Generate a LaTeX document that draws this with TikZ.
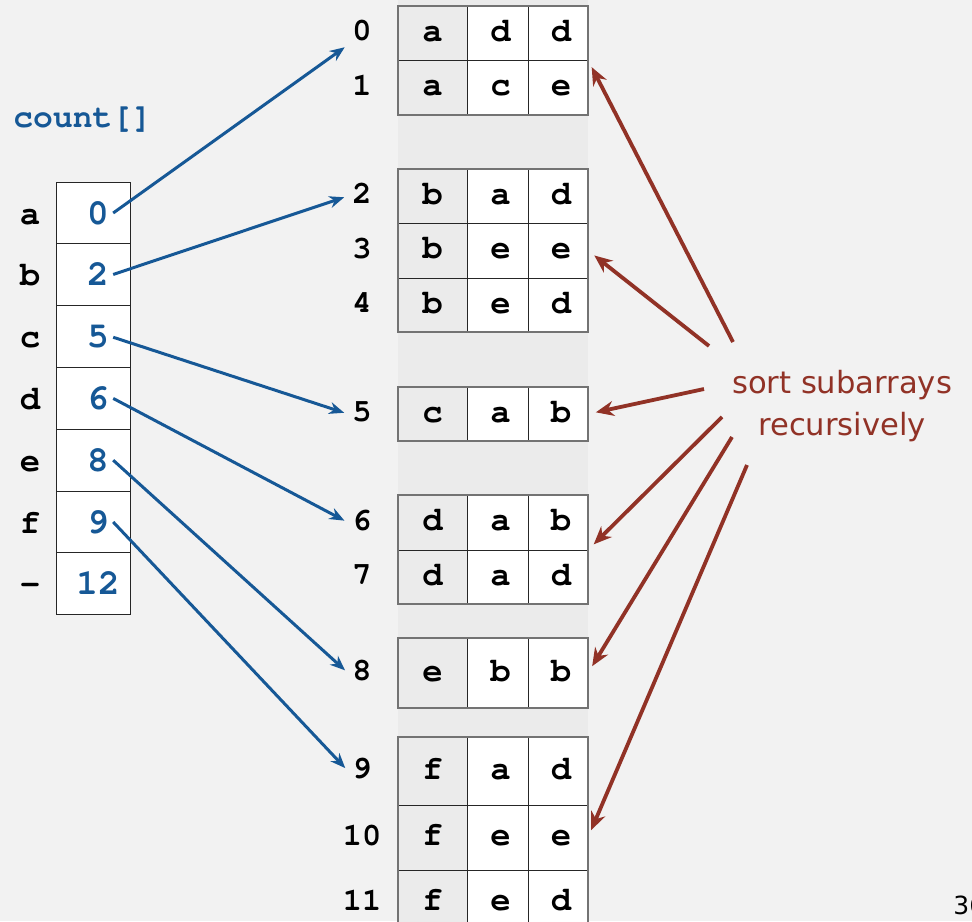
\documentclass[tikz,border=0pt]{standalone}
\usepackage[T1]{fontenc}
\usepackage{fontspec}
\setsansfont{DejaVu Sans}
\usetikzlibrary{arrows.meta,positioning}
\definecolor{bgGray}{RGB}{242,242,242}
\definecolor{bandGray}{RGB}{235,235,235}
\definecolor{keyGray}{RGB}{235,235,235}
\definecolor{cntBlue}{RGB}{22,88,150}
\definecolor{recRed}{RGB}{145,50,38}
\newcommand{\crb}[1]{\fontencoding{T1}\fontfamily{pcr}\fontseries{b}\fontsize{#1}{#1}\selectfont}
\begin{document}
\begin{tikzpicture}[x=0.5pt,y=-0.5pt,
    tab/.style={draw=black!85,line width=0.5pt,inner sep=0pt,outer sep=0pt,fill=white,text height=8pt,text depth=0pt,font=\crb{17}},
    key/.style={tab,fill=keyGray},
    idx/.style={inner sep=2pt,text height=7.5pt,text depth=0pt,font=\crb{16}},
    cnt/.style={draw=black!85,line width=0.5pt,fill=white,inner sep=0pt,minimum width=37pt,minimum height=30.9pt},
    cntval/.style={anchor=base,inner sep=2pt,text=cntBlue,font=\crb{18}},
    cntkey/.style={anchor=base,inner sep=0pt,font=\crb{17}},
    blue arrow/.style={draw=cntBlue,line width=1.5pt,-{Stealth[length=7.5pt,width=6pt]},shorten >=2pt},
    red arrow/.style={draw=recRed,line width=1.9pt,-{Stealth[length=9pt,width=7.5pt]},shorten >=4pt}]
\useasboundingbox (0,0) rectangle (972,921);
\fill[bgGray] (0,0) rectangle (972,921);
\fill[bandGray] (398,0) rectangle (588,921);
\foreach \i/\t/\b/\p/\q/\r in {0/6/60/a/d/d,1/60/115/a/c/e,2/169/223/b/a/d,3/223/278/b/e/e,4/278/332/b/e/d,5/387/441/c/a/b,6/495/550/d/a/b,7/550/604/d/a/d,8/638/708/e/b/b,9/737/805/f/a/d,10/805/870/f/e/e,11/870/935/f/e/d}{
  \node[key,minimum width=34.5pt,minimum height={(\b-\t)*0.5pt}] (r\i-1) at (432.5,{(\t+\b)/2}) {\p};
  \node[tab,minimum width=30.5pt,minimum height={(\b-\t)*0.5pt}] (r\i-2) at (497.5,{(\t+\b)/2}) {\hspace*{3pt}\q};
  \node[tab,minimum width=30pt,minimum height={(\b-\t)*0.5pt}] (r\i-3) at (558,{(\t+\b)/2}) {\hspace*{3pt}\r};
  \node[idx] (i\i) at (362,{(\t+\b)/2}) {\i};
}
\foreach \t/\b in {6/115,169/332,387/441,495/604,638/708,737/935}
  \draw[black!55,line width=0.9pt] (398,\t) rectangle (588,\b);
\node[anchor=base west,inner sep=0pt,text=cntBlue,font=\crb{16.5}] (cntname) at (13,127) {count[]};
\foreach \k/\v [count=\n from 0] in {a/0,b/2,c/5,d/6,e/8,f/9,-/12}{
  \node[cnt] (c\n) at (93,{213+61.8*\n}) {};
  \node[cntkey] (k\n) at (30,{224+61.8*\n}) {\k};
  \node[cntval] (v\n) at (98,{224+61.8*\n}) {\v};
}
\foreach \n/\j/\a in {0/0/south west,1/2/west,2/5/west,3/6/west,4/8/west,5/9/west}
  \draw[blue arrow] (v\n.east) -- (i\j.\a);
\node[align=center,text=recRed,font=\sffamily\fontsize{15.3}{21}\selectfont] (srt) at (842,406) {sort subarrays\\recursively};
\coordinate (s1) at (733,342);
\coordinate (s2) at (709,346);
\coordinate (s3) at (704,389);
\coordinate (s4) at (722,417);
\coordinate (s5) at (732,437);
\coordinate (s6) at (747,465);
\draw[red arrow] (s1) -- (r1-3.north east);
\draw[red arrow] (s2) -- (r3-3.east);
\draw[red arrow] (s3) -- (r5-3.east);
\draw[red arrow] (s4) -- (r6-3.south east);
\draw[red arrow] (s5) -- (r8-3.east);
\draw[red arrow] (s6) -- (r10-3.east);
\node[anchor=base west,inner sep=0pt,font=\sffamily\fontsize{12.5}{12.5}\selectfont] (pg) at (953,914) {36};
\end{tikzpicture}
\end{document}
